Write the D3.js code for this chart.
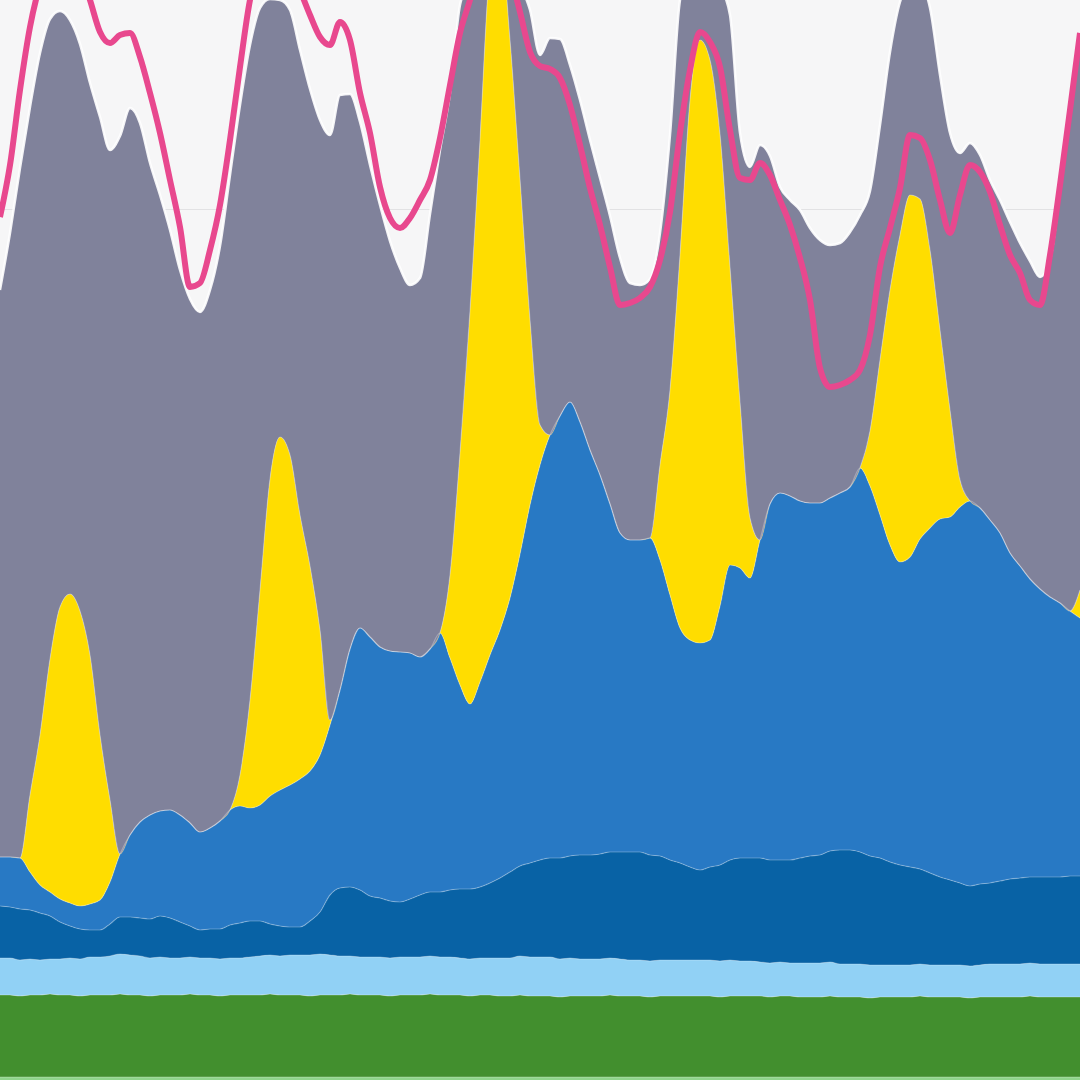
<!DOCTYPE html>
<html><head><meta charset="utf-8">
<script src="https://cdn.jsdelivr.net/npm/d3@7"></script>
<style>html,body{margin:0;padding:0;background:#f6f6f7;overflow:hidden}svg{display:block}</style>
</head><body><svg id="chart" width="1080" height="1080"></svg>
<script>
// Generation by source (GW), one value per time step (left to right)
const other = [
0.6,0.6,0.6,0.6,0.6,0.6,0.6,0.6,0.6,0.6,
0.6,0.6,0.6,0.6,0.6,0.6,0.6,0.6,0.6,0.6,
0.6,0.6,0.6,0.6,0.6,0.6,0.6,0.6,0.6,0.6,
0.6,0.6,0.6,0.6,0.6,0.6,0.6,0.6,0.6,0.6,
0.6,0.6,0.6,0.6,0.6,0.6,0.6,0.6,0.6,0.6,
0.6,0.6,0.6,0.6,0.6,0.6,0.6,0.6,0.6,0.6,
0.6,0.6,0.6,0.6,0.6,0.6,0.6,0.6,0.6,0.6,
0.6,0.6,0.6,0.6,0.6,0.6,0.6,0.6,0.6,0.6,
0.6,0.6,0.6,0.6,0.6,0.6,0.6,0.6,0.6,0.6,
0.6,0.6,0.6,0.6,0.6,0.6,0.6,0.6,0.6,0.6,
0.6,0.6,0.6,0.6,0.6,0.6,0.6,0.6,0.6];
const biomass = [
4.1,4.1,4.05,4.1,4.1,4.15,4.1,4.1,4.05,4.1,
4.1,4.1,4.15,4.1,4.1,4.05,4.1,4.1,4.1,4.15,
4.1,4.1,4.05,4.1,4.1,4.1,4.1,4.15,4.1,4.1,
4.1,4.05,4.1,4.1,4.1,4.15,4.1,4.1,4.1,4.05,
4.1,4.1,4.1,4.15,4.1,4.1,4.1,4.05,4.1,4.1,
4.05,4.05,4.1,4.05,4.05,4.05,4.0,4.05,4.05,4.05,
4.05,4.1,4.05,4.05,4.05,4.0,4.05,4.05,4.05,4.05,
4.05,4.05,4.0,4.05,4.05,4.05,4.05,4.0,4.05,4.05,
4.0,4.0,4.0,4.05,4.0,4.0,4.0,3.95,4.0,4.0,
4.0,4.0,4.05,4.0,4.0,4.0,4.0,3.95,4.0,4.0,
4.0,4.0,4.0,4.05,4.0,4.0,4.0,4.0,4.0];
const hydro = [
1.85,1.85,1.8,1.8,1.75,1.75,1.8,1.85,1.85,1.9,
1.9,1.95,2.0,2.0,1.95,1.9,1.9,1.85,1.85,1.85,
1.85,1.85,1.85,1.85,1.85,1.9,1.95,1.95,1.95,2.0,
2.0,2.05,2.05,2.0,1.95,1.9,1.9,1.9,1.9,1.9,
1.9,1.9,1.9,1.9,1.9,1.9,1.85,1.85,1.85,1.85,
1.9,1.9,1.95,1.95,1.95,1.95,1.9,1.9,1.85,1.85,
1.85,1.85,1.85,1.8,1.8,1.8,1.8,1.8,1.8,1.8,
1.8,1.8,1.8,1.8,1.75,1.75,1.7,1.7,1.7,1.65,
1.7,1.7,1.7,1.7,1.65,1.65,1.65,1.65,1.6,1.6,
1.6,1.6,1.6,1.6,1.6,1.6,1.6,1.6,1.6,1.65,
1.65,1.65,1.65,1.65,1.65,1.65,1.65,1.65,1.65];
const windOffshore = [
2.6,2.55,2.55,2.45,2.35,2.15,1.85,1.6,1.5,1.35,
1.35,1.6,1.85,1.9,1.9,1.95,2.05,2.0,1.8,1.55,
1.4,1.45,1.5,1.65,1.75,1.8,1.75,1.55,1.5,1.4,
1.4,1.7,2.1,3.0,3.4,3.45,3.35,3.05,2.95,2.85,
2.75,2.9,3.1,3.2,3.25,3.35,3.45,3.5,3.55,3.75,
4.0,4.3,4.5,4.7,4.85,4.95,5.05,5.1,5.2,5.2,
5.25,5.3,5.35,5.4,5.4,5.3,5.2,5.0,4.85,4.65,
4.5,4.65,4.8,5.0,5.15,5.15,5.2,5.15,5.1,5.15,
5.25,5.35,5.4,5.55,5.7,5.7,5.6,5.45,5.35,5.15,
5.0,4.9,4.75,4.6,4.4,4.25,4.1,4.0,4.05,4.05,
4.15,4.25,4.3,4.3,4.35,4.35,4.35,4.4,4.4];
const windOnshore = [
2.45,2.5,2.55,1.9,1.4,1.2,1.15,1.15,1.15,1.3,
1.5,2.1,3.15,4.1,4.8,5.2,5.25,5.4,5.35,5.15,
4.9,5.05,5.4,5.75,5.85,5.65,5.8,6.4,6.8,7.1,
7.4,7.5,7.85,8.5,9.9,11.9,13.1,12.95,12.55,12.5,
12.5,12.3,11.9,12.15,12.95,11.6,10.2,9.25,10.25,11.4,
12.4,13.7,15.6,17.9,19.75,21.15,22.1,22.7,21.65,20.25,
18.95,17.4,15.95,15.6,15.6,15.85,14.8,13.25,11.75,11.35,
11.35,11.35,12.95,14.75,14.5,14.0,15.9,17.8,18.35,18.2,
17.85,17.65,17.6,17.65,17.85,18.15,19.2,18.5,17.15,15.85,
15.15,15.5,16.5,17.25,17.9,18.15,18.8,19.25,18.8,18.15,
17.4,16.3,15.6,14.9,14.4,14.0,13.7,13.25,12.9];
const solar = [
0,0,0,3.85,7.5,11.65,14.6,15.45,14.75,12.45,
8.25,4.1,0,0,0,0,0,0,0,0,
0,0,0,0,1.55,5.4,10.75,15.85,17.65,16.5,
13.2,10.25,6.25,0.25,0,0,0,0,0,0,
0,0,0,0,0,4.15,11.6,19.65,27.1,34.25,
34.5,27.9,18.75,9.25,2.0,0,0,0,0,0,
0,0,0,0,0,0,4.75,10.25,18.65,27.0,
30.15,29.0,23.6,14.9,8.3,3.0,0,0,0,0,
0,0,0,0,0,0,0,2.75,7.75,12.75,
16.35,18.1,17.0,13.9,9.45,5.35,1.35,0,0,0,
0,0,0,0,0,0,0,0,1.4];
const gas = [
28.35,31.2,34.5,34.4,34.1,32.0,29.8,28.7,28.35,28.6,
30.9,32.5,35.9,36.35,34.95,32.6,30.8,29.0,27.25,26.2,
26.0,26.9,28.75,31.75,33.5,32.75,29.1,24.0,21.85,22.25,
23.25,23.85,25.5,29.25,29.75,27.75,25.3,23.6,22.1,20.5,
19.2,18.4,18.95,21.75,24.15,24.1,22.4,16.5,9.0,2.0,
2.0,4.0,9.75,15.5,18.5,19.85,18.85,16.85,16.1,15.5,
14.85,14.4,13.75,12.85,12.75,12.95,11.6,12.75,12.75,6.5,
4.0,4.5,7.4,12.6,13.45,17.55,19.75,17.4,15.3,14.8,
14.55,13.75,13.15,12.65,12.5,12.75,12.65,12.0,11.75,11.9,
11.65,10.5,10.75,12.1,12.75,13.85,16.35,17.9,17.65,17.0,
16.65,16.55,16.15,15.9,15.6,16.85,20.65,25.05,27.5];
const demand = [
43.6,46.2,49.95,53.1,55.2,56.45,56.95,56.7,55.95,54.45,
52.85,52.3,52.7,52.8,51.6,49.8,47.8,45.45,43.1,40.1,
40.3,41.95,44.2,47.45,51.1,54.45,56.2,56.95,56.95,56.2,
54.95,53.7,52.6,52.2,53.35,52.45,49.8,47.8,45.1,43.55,
43.05,43.55,44.45,45.45,47.55,50.2,52.8,54.45,56.2,56.95,
56.95,55.7,53.85,51.85,51.15,51.0,50.55,49.2,47.2,45.05,
43.2,41.1,39.2,39.3,39.55,40.1,41.45,43.85,47.8,50.95,
52.85,52.35,51.1,47.95,45.55,45.45,46.3,45.7,44.45,43.2,
41.55,39.45,36.05,35.1,35.2,35.45,35.95,37.7,41.1,43.05,
45.05,47.7,47.55,46.45,44.45,42.8,44.7,46.2,45.85,44.85,
43.2,41.7,40.8,39.45,39.2,41.7,45.2,48.95,52.8];
const gridTicks = [44];

const keys = ["other","biomass","hydro","windOffshore","windOnshore","solar","gas"];
const series = {other, biomass, hydro, windOffshore, windOnshore, solar, gas};
const colors = {
  other:"#8fd48b", biomass:"#428f2e", hydro:"#91d1f5", windOffshore:"#0862a5",
  windOnshore:"#2879c4", solar:"#ffdd00", gas:"#80829b"
};

const W = 1080, H = 1080;
const n = gas.length;
const rows = d3.range(n).map(i => {
  const r = {t: i};
  keys.forEach(k => r[k] = series[k][i]);
  return r;
});

const x = d3.scaleLinear().domain([0, n - 1]).range([0, W]);
const y = d3.scaleLinear().domain([0, 50]).range([1089, 89]);

const svg = d3.select("#chart");
svg.append("rect").attr("width", W).attr("height", H).attr("fill", "#f6f6f7");

svg.append("g").selectAll("line").data(gridTicks).join("line")
  .attr("x1", 0).attr("x2", W)
  .attr("y1", d => Math.round(y(d)) + 0.5).attr("y2", d => Math.round(y(d)) + 0.5)
  .attr("stroke", "#e2e2e4").attr("stroke-width", 1);

const stacked = d3.stack().keys(keys)(rows);
const curve = d3.curveMonotoneX;

const area = d3.area().curve(curve)
  .x(d => x(d.data.t)).y0(d => y(d[0])).y1(d => y(d[1]));
const topLine = d3.line().curve(curve)
  .x(d => x(d.data.t)).y(d => y(d[1]));

const g = svg.append("g");
g.selectAll("path.area").data(stacked).join("path")
  .attr("class", "area")
  .attr("d", area)
  .attr("fill", d => colors[d.key]);

g.selectAll("path.edge").data(stacked).join("path")
  .attr("class", "edge")
  .attr("d", topLine)
  .attr("fill", "none")
  .attr("stroke", "#ffffff")
  .attr("stroke-opacity", d => d.key === "gas" ? 0.9 : 0.28)
  .attr("stroke-width", d => d.key === "gas" ? 2.5 : 1.2);

const demandLine = d3.line().curve(curve)
  .x((d, i) => x(i)).y(d => y(d));
svg.append("path").datum(demand)
  .attr("d", demandLine)
  .attr("fill", "none")
  .attr("stroke", "#e8488e")
  .attr("stroke-width", 6)
  .attr("stroke-linejoin", "round");
</script>
</body></html>
